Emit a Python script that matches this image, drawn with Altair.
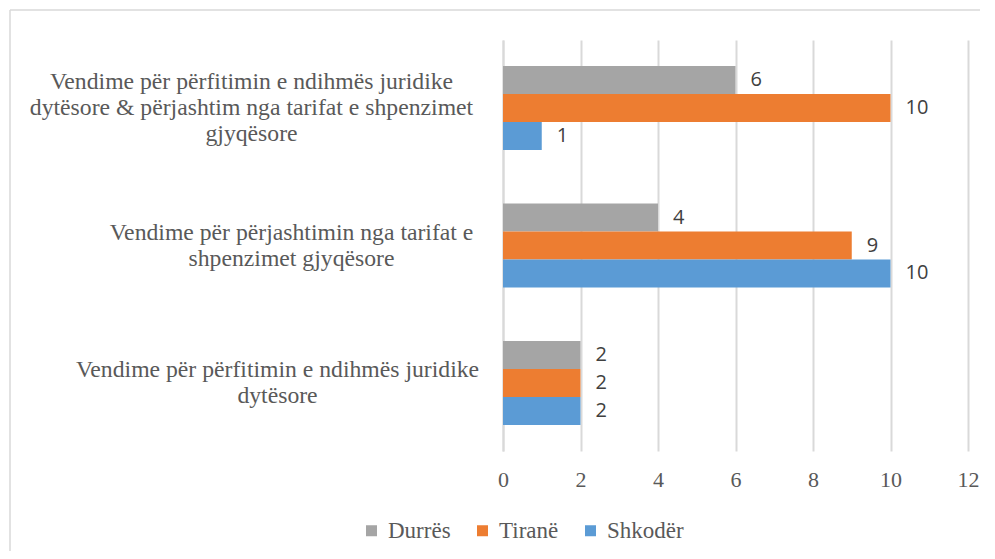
import altair as alt
import pandas as pd

categories = [
    "Vendime për përfitimin e ndihmës juridike|dytësore & përjashtim nga tarifat e shpenzimet|gjyqësore",
    "Vendime për përjashtimin nga tarifat e|shpenzimet gjyqësore",
    "Vendime për përfitimin e ndihmës juridike|dytësore",
]
series = ["Durrës", "Tiranë", "Shkodër"]
durres = [6, 4, 2]
tirane = [10, 9, 2]
shkoder = [1, 10, 2]
colors = ["#A5A5A5", "#ED7D31", "#5B9BD5"]
x_ticks = [0, 2, 4, 6, 8, 10, 12]

rows = []
for i, c in enumerate(categories):
    for s, vals in zip(series, [durres, tirane, shkoder]):
        rows.append({"cat": c, "series": s, "value": vals[i]})
df = pd.DataFrame(rows)

serif = "Liberation Serif"
grey_txt = "#595959"

y_enc = alt.Y(
    "cat:N",
    sort=categories,
    title=None,
    scale=alt.Scale(paddingInner=0.39, paddingOuter=0.19),
    axis=alt.Axis(
        labelExpr="split(datum.label, '|')",
        labelAlign="center",
        labelBaseline="middle",
        labelFont=serif,
        labelFontSize=23.7,
        labelColor=grey_txt,
        labelLineHeight=26,
        labelLimit=0,
        labelPadding={
            "condition": [
                {"test": f"datum.value === '{categories[0]}'", "value": 252},
                {"test": f"datum.value === '{categories[1]}'", "value": 212},
            ],
            "value": 226,
        },
        labelOffset={
            "condition": [
                {"test": f"datum.value === '{categories[0]}'", "value": -26},
            ],
            "value": -13,
        },
        ticks=False,
        domain=True,
        domainColor="#d9d9d9",
        domainWidth=2,
        grid=False,
    ),
)
x_enc = alt.X(
    "value:Q",
    title=None,
    scale=alt.Scale(domain=[0, 12], nice=False),
    axis=alt.Axis(
        values=x_ticks,
        labelFont=serif,
        labelFontSize=22,
        labelColor=grey_txt,
        labelPadding=18,
        labelFlush=False,
        ticks=False,
        domain=False,
        grid=True,
        gridColor="#d9d9d9",
        gridWidth=2,
    ),
)
yoff = alt.YOffset("series:N", sort=series, scale=alt.Scale(paddingInner=0, paddingOuter=0))
color_enc = alt.Color(
    "series:N",
    sort=series,
    scale=alt.Scale(domain=series, range=colors),
    legend=alt.Legend(
        title=None,
        orient="none",
        direction="horizontal",
        legendX=-143,
        legendY=479,
        symbolType="square",
        symbolSize=121,
        symbolStrokeWidth=0,
        labelFont=serif,
        labelFontSize=23,
        labelColor=grey_txt,
        labelOffset=5,
        columnPadding=20,
    ),
)

base = alt.Chart(df)
bars = base.mark_bar(size=28).encode(y=y_enc, x=x_enc, yOffset=yoff, color=color_enc)
labels = base.mark_text(
    align="left", baseline="middle", dx=15, font="Open Sans", fontSize=20, color="#404040"
).encode(
    y=alt.Y("cat:N", sort=categories),
    x=alt.X("value:Q"),
    yOffset=yoff,
    text="value:Q",
)

border_top = alt.Chart(pd.DataFrame({"a": [0]})).mark_rule(color="#d9d9d9", strokeWidth=1.5).encode(
    x=alt.value(-493), x2=alt.value(600), y=alt.value(-30)
)
border_left = alt.Chart(pd.DataFrame({"a": [0]})).mark_rule(color="#d9d9d9", strokeWidth=1.5).encode(
    x=alt.value(-493), y=alt.value(-30), y2=alt.value(700)
)

chart = (
    alt.layer(bars, labels, border_top, border_left)
    .properties(
        width=465,
        height=411,
        background="white",
        autosize=alt.AutoSizeParams(type="none"),
        padding={"left": 495, "top": 32, "right": 12, "bottom": 100},
    )
    .configure_view(stroke=None)
    .configure_axis(labelFont=serif)
    .configure_axisX(labelFont=serif, labelFontSize=22)
    .configure_legend(labelFont=serif)
)
chart.save("out.html", embed_options={"renderer": "svg", "actions": False})
